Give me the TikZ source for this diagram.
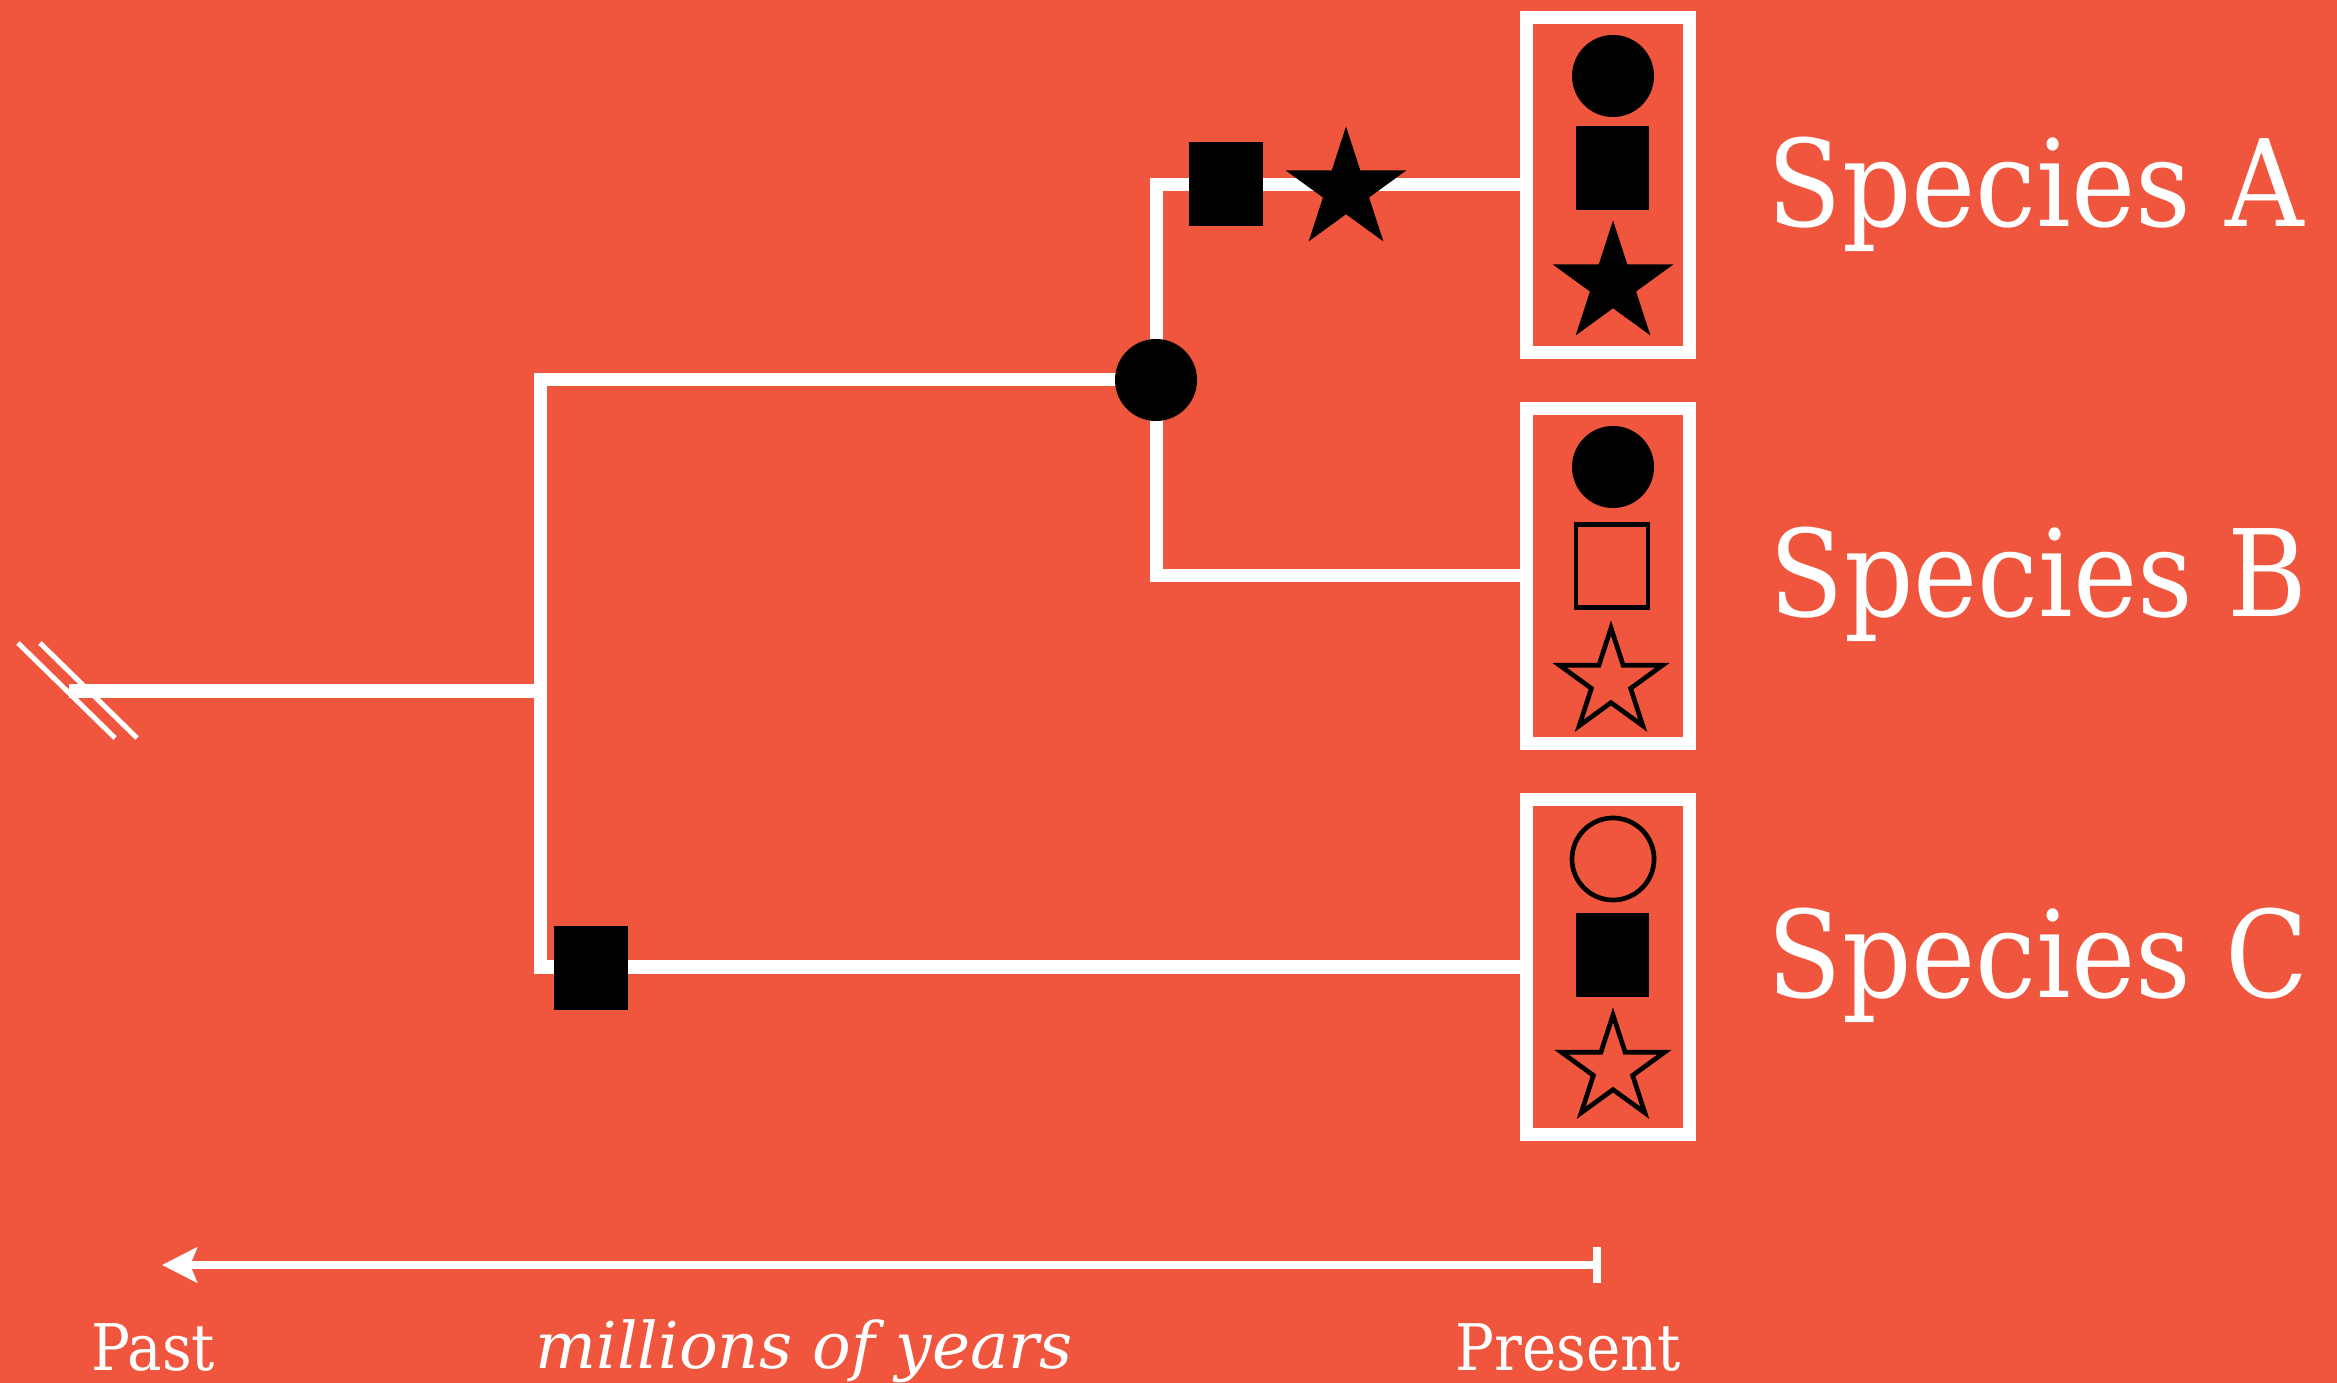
\documentclass[tikz,border=0pt]{standalone}
\usepackage{fontspec}
\newfontfamily\slabfont{DejaVu Serif Condensed}
\newfontfamily\slabital{DejaVu Serif}
\usetikzlibrary{shapes.geometric,arrows.meta}
\definecolor{bgred}{RGB}{240,86,62}
\tikzset{
  branch/.style={white, line width=1.3mm},
  cutmark/.style={white, line width=0.5mm},
  speciesbox/.style={draw=white, line width=1.3mm, rectangle, minimum width=1.63cm,
    minimum height=3.35cm, inner sep=0pt, outer sep=0pt},
  fdot/.style={circle, fill=black, minimum size=8.2mm, inner sep=0pt},
  odot/.style={circle, draw=black, line width=0.47mm, minimum size=8.2mm, inner sep=0pt},
  fsq/.style={rectangle, fill=black, minimum width=7.3mm, minimum height=8.3mm, inner sep=0pt},
  osq/.style={rectangle, draw=black, line width=0.47mm, minimum width=7.2mm,
    minimum height=8.25mm, inner sep=0pt},
  fstar/.style={star, star points=5, star point ratio=2.618, fill=black,
    minimum size=12.7mm, inner sep=0pt},
  ostar/.style={star, star points=5, star point ratio=2.618, draw=black, line width=0.47mm,
    minimum size=10.8mm, inner sep=0pt},
  splabel/.style={white, inner sep=0pt, anchor=base west,
    font=\slabfont\fontsize{34.3}{40}\selectfont},
  axislabel/.style={white, inner sep=0pt, anchor=base west,
    font=\slabfont\fontsize{18.3}{22}\selectfont},
  timeaxis/.style={white, line width=0.8mm}
}
\begin{document}
\begin{tikzpicture}[x=0.01cm, y=-0.01cm]
  \fill[bgred] (0,0) rectangle (2337,1383);
  \useasboundingbox (0,0) rectangle (2337,1383);

  % boxes at the tips
  \node[speciesbox] (boxA) at (1608,185) {};
  \node[speciesbox] (boxB) at (1608,576) {};
  \node[speciesbox] (boxC) at (1608,967) {};

  % tree
  \coordinate (root) at (69,691);
  \coordinate (split1) at (540,691);
  \coordinate (split2) at (1156,380);
  \draw[branch] (root) -- (split1);
  \draw[branch] (split2) -| (split1) |- (boxC.west);
  \draw[branch] (boxA.west) -| (split2) |- (boxB.west);

  % cut marks on the root
  \draw[cutmark] (18,643) -- (115,738);
  \draw[cutmark] (40,643) -- (137,738);

  % changes along the branches
  \node[fdot] (gainDot) at (split2) {};
  \node[fsq] (gainSqA) at (1226,184) {};
  \node[fstar] (gainStarA) at (1346,190) {};
  \node[fsq] (gainSqC) at (591,968) {};

  % traits of species A
  \node[fdot] (dotA) at (1613,76) {};
  \node[fsq] (sqA) at (1612,168) {};
  \node[fstar] (starA) at (1613,284) {};
  % traits of species B
  \node[fdot] (dotB) at (1613,467) {};
  \node[osq] (sqB) at (1612,566) {};
  \node[ostar] (starB) at (1611,682) {};
  % traits of species C
  \node[odot] (dotC) at (1613,859) {};
  \node[fsq] (sqC) at (1612,955) {};
  \node[ostar] (starC) at (1613,1069) {};

  \node[splabel] (labA) at (1767,227) {Species A};
  \node[splabel] (labB) at (1769,617) {Species B};
  \node[splabel] (labC) at (1767,997) {Species C};

  % time axis
  \coordinate (tpast) at (162,1265);
  \coordinate (tnow) at (1601,1265);
  \draw[timeaxis, {Stealth[length=3.5mm, width=3.5mm, inset=0.7mm]}-{Bar[width=3.5mm]}] (tpast) -- (tnow);
  \node[axislabel] (pastlab) at (91,1370) {Past};
  \node[axislabel] (nowlab) at (1455,1370) {Present};
  \node[axislabel, font=\slabital\itshape\fontsize{18.3}{22}\selectfont] (unitlab) at (535,1368) {millions of years};
\end{tikzpicture}
\end{document}
